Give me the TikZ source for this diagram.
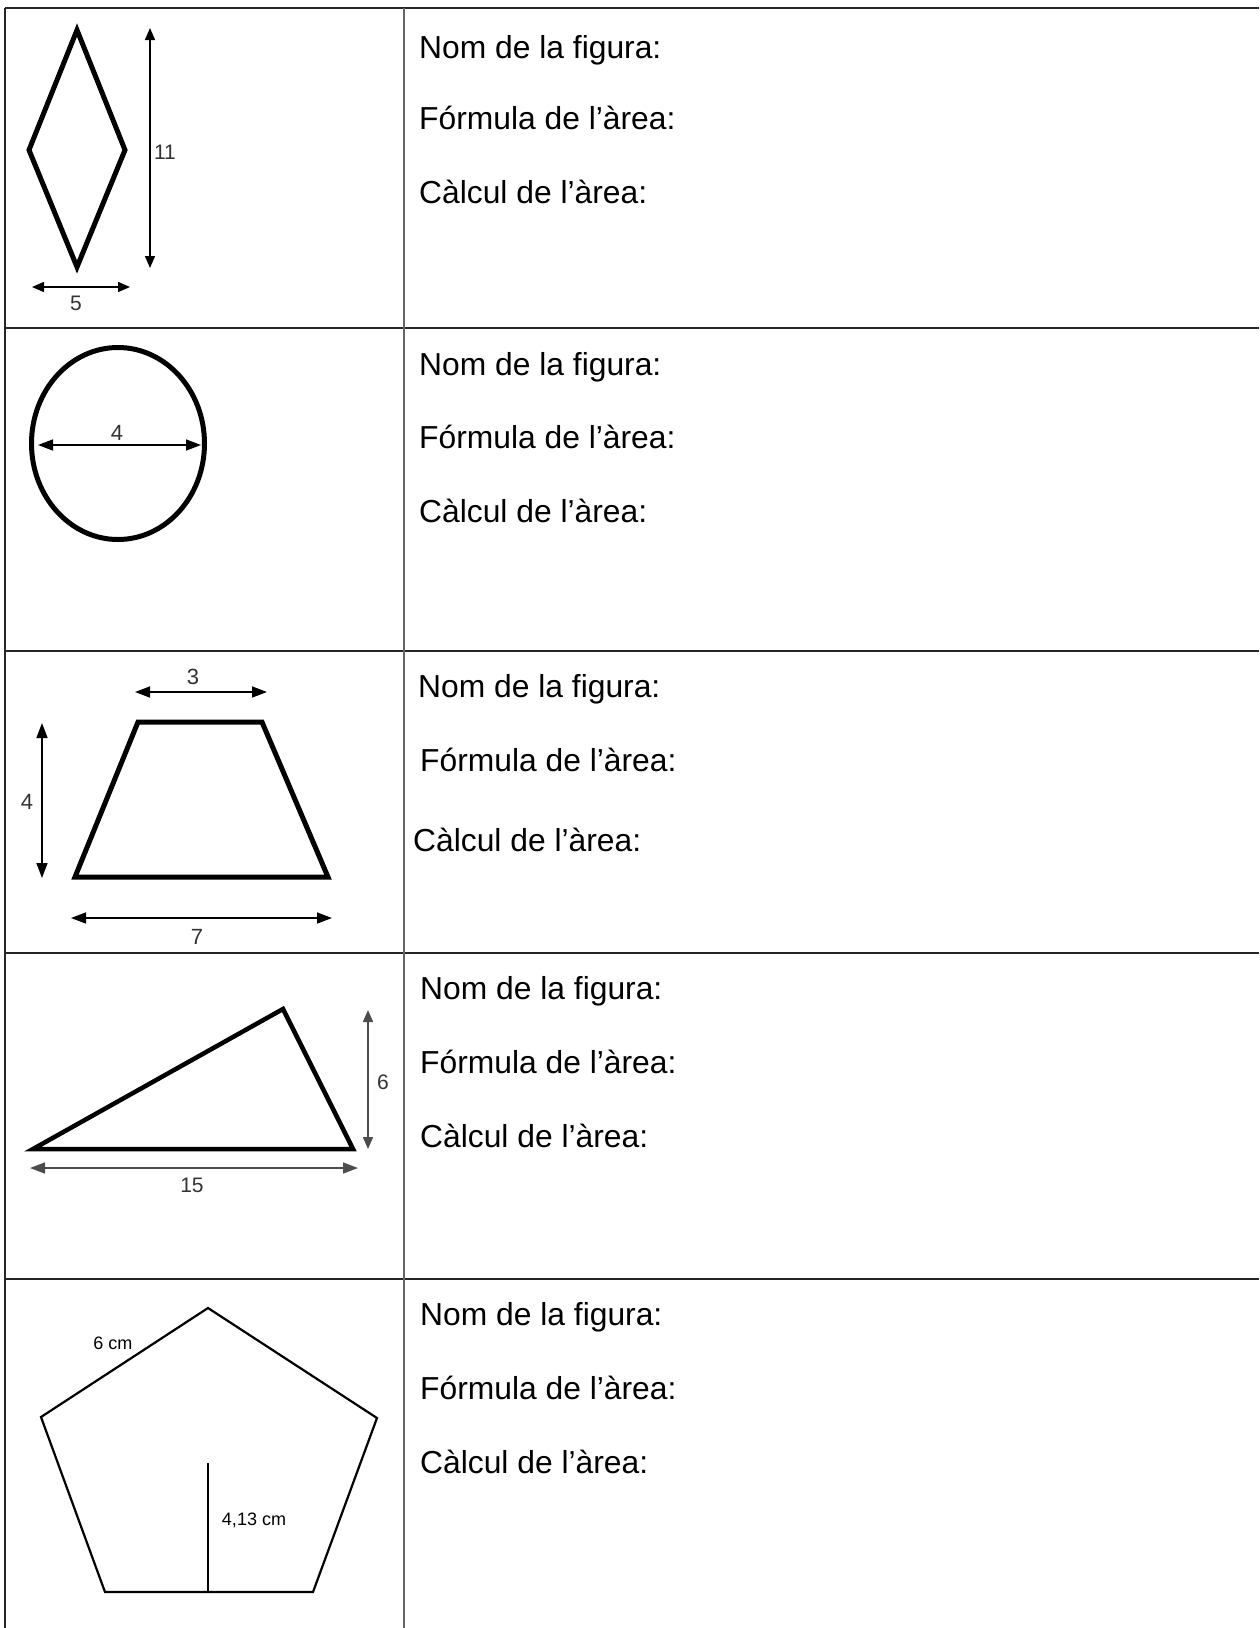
\documentclass[tikz,border=0pt]{standalone}
\usepackage{fontspec}
\setmainfont{Liberation Sans}
\usetikzlibrary{arrows.meta}
\begin{document}
\begin{tikzpicture}[x=1pt,y=-1pt,
  gridline/.style={line width=1.8pt, draw=black!85},
  divider/.style={line width=2pt, draw=black!60},
  figline/.style={line width=5pt, line join=miter},
  thinfig/.style={line width=2.2pt, line join=miter},
  dimarrow/.style={line width=1.5pt, {Triangle[length=15pt,width=11pt]}-{Triangle[length=15pt,width=11pt]}},
  dimarrowsmall/.style={line width=1.5pt, {Triangle[length=12pt,width=10pt]}-{Triangle[length=12pt,width=10pt]}},
  lbl/.style={font=\fontsize{31.8}{38}\selectfont, anchor=base west, inner sep=0pt},
  numlbl/.style={font=\fontsize{21}{25}\selectfont, inner sep=0pt, text=black!80},
  cmlbl/.style={font=\fontsize{18}{22}\selectfont, inner sep=0pt},
]
\useasboundingbox (0,0) rectangle (1259,1628);
\fill[white] (0,0) rectangle (1259,1628);

% table lines
\draw[gridline] (5,8) -- (1259,8);
\draw[gridline] (5,328) -- (1259,328);
\draw[gridline] (5,651) -- (1259,651);
\draw[gridline] (5,953) -- (1259,953);
\draw[gridline] (5,1279) -- (1259,1279);
\draw[gridline] (5,8) -- (5,1628);
\draw[divider] (404,8) -- (404,1628);

% right column texts
\foreach \y/\xa/\ya/\xb/\yb/\xc/\yc in {
  1/419/58/419/129/419/203,
  2/419/375/419/448/419/522,
  3/418/697/420/771/413/851,
  4/420/999/420/1073/420/1147,
  5/420/1325/420/1399/420/1473}{
  \node[lbl] (nom\y) at (\xa,\ya) {Nom de la figura:};
  \node[lbl] (form\y) at (\xb,\yb) {Fórmula de l’àrea:};
  \node[lbl] (calc\y) at (\xc,\yc) {Càlcul de l’àrea:};
}

% 1: rhombus
\draw[figline] (77,30) -- (125,150) -- (77,267) -- (29,150) -- cycle;
\coordinate (r1a) at (150,28); \coordinate (r1b) at (150,268);
\draw[dimarrowsmall] (r1a) -- (r1b);
\node[numlbl] (r1h) at (165,152) {11};
\coordinate (r1c) at (32,287); \coordinate (r1d) at (130,287);
\draw[dimarrowsmall] (r1c) -- (r1d);
\node[numlbl] (r1w) at (76,303) {5};

% 2: circle
\draw[figline] (118,443.5) ellipse [x radius=86.5, y radius=96];
\coordinate (c2a) at (38,445); \coordinate (c2b) at (201,445);
\draw[dimarrow] (c2a) -- (c2b);
\node[numlbl, font=\fontsize{22}{26}\selectfont] (c2d) at (117,433) {4};

% 3: trapezoid
\draw[figline] (138,722) -- (262,722) -- (328,877) -- (75,877) -- cycle;
\coordinate (t3a) at (135,692); \coordinate (t3b) at (267,692);
\draw[dimarrow] (t3a) -- (t3b);
\node[numlbl, font=\fontsize{22}{26}\selectfont] (t3top) at (193,677) {3};
\coordinate (t3c) at (42,723); \coordinate (t3d) at (42,878);
\draw[dimarrow] (t3c) -- (t3d);
\node[numlbl, font=\fontsize{22}{26}\selectfont] (t3h) at (27,802) {4};
\coordinate (t3e) at (71,918); \coordinate (t3f) at (332,918);
\draw[dimarrow] (t3e) -- (t3f);
\node[numlbl, font=\fontsize{22}{26}\selectfont] (t3bot) at (197,937) {7};

% 4: triangle
\draw[figline, line width=4.5pt] (33,1149) -- (283,1009) -- (353,1149) -- cycle;
\coordinate (g4a) at (368,1010); \coordinate (g4b) at (368,1149);
\draw[dimarrowsmall, draw=black!70, fill=black!80] (g4a) -- (g4b);
\node[numlbl] (g4h) at (383,1082) {6};
\coordinate (g4c) at (30,1168); \coordinate (g4d) at (358,1168);
\draw[dimarrow, draw=black!70, fill=black!80] (g4c) -- (g4d);
\node[numlbl] (g4w) at (192,1185) {15};

% 5: pentagon
\draw[thinfig] (208,1308) -- (377,1418) -- (313,1592) -- (105,1592) -- (41,1417) -- cycle;
\coordinate (p5a) at (208,1463); \coordinate (p5b) at (208,1592);
\draw[thinfig] (p5a) -- (p5b);
\node[cmlbl] (p5s) at (113,1343) {6 cm};
\node[cmlbl] (p5h) at (254,1520) {4,13 cm};
\end{tikzpicture}
\end{document}
